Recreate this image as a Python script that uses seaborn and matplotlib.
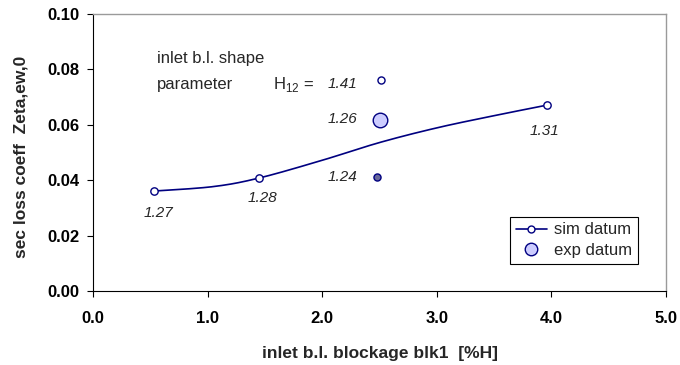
import numpy as np
import pandas as pd
import matplotlib
matplotlib.use("Agg")
import matplotlib.pyplot as plt
import seaborn as sns
from matplotlib.lines import Line2D

# simulated points: inlet blockage [%H] vs secondary loss coefficient
sim_blockage = [0.535, 1.45, 3.96]
sim_zeta = [0.0361, 0.0408, 0.0671]
sim_h12 = ["1.27", "1.28", "1.31"]

# simulation trend line (smoothed) through the simulated cases
trend_blockage = [0.535, 1.05, 1.45, 2.0, 2.5, 3.0, 3.5, 3.96]
trend_zeta = [0.0361, 0.0377, 0.0408, 0.0472, 0.0536, 0.0589, 0.0633, 0.0671]

# experimental points at blockage ~2.5 %H
exp_blockage = [2.51, 2.50, 2.48]
exp_zeta = [0.0762, 0.0617, 0.0413]
exp_h12 = ["1.41", "1.26", "1.24"]

x_ticks = [0.0, 1.0, 2.0, 3.0, 4.0, 5.0]
y_ticks = [0.00, 0.02, 0.04, 0.06, 0.08, 0.10]

sns.set_style("ticks")
plt.rcParams["font.family"] = ["Liberation Sans", "DejaVu Sans"]
plt.rcParams["mathtext.fontset"] = "custom"
plt.rcParams["mathtext.rm"] = "Liberation Sans"

NAVY = "#000080"


def smooth_curve(xs, ys, n=30):
    """Piecewise cubic Bezier through the points (Catmull-Rom tangents)."""
    p = np.column_stack([xs, ys]).astype(float)
    ext = np.vstack([p[0], p, p[-1]])
    out = []
    t = np.linspace(0, 1, n)[:, None]
    for i in range(len(p) - 1):
        p0, p1 = ext[i + 1], ext[i + 2]
        c1 = p0 + (ext[i + 2] - ext[i]) / 6.0
        c2 = p1 - (ext[i + 3] - ext[i + 1]) / 6.0
        seg = ((1 - t) ** 3) * p0 + 3 * ((1 - t) ** 2) * t * c1 \
            + 3 * (1 - t) * t ** 2 * c2 + t ** 3 * p1
        out.append(seg if i == 0 else seg[1:])
    return np.vstack(out)


fig = plt.figure(figsize=(6.8, 3.65), dpi=100)
ax = fig.add_axes([0.1368, 0.2027, 0.8426, 0.7589])

curve = smooth_curve(trend_blockage, trend_zeta)
curve_df = pd.DataFrame({"blk": curve[:, 0], "zeta": curve[:, 1]})
sns.lineplot(data=curve_df, x="blk", y="zeta", sort=False, color=NAVY,
             linewidth=1.2, ax=ax, legend=False)

sim_df = pd.DataFrame({"blk": sim_blockage, "zeta": sim_zeta})
sns.scatterplot(data=sim_df, x="blk", y="zeta", ax=ax, s=28, marker="o",
                facecolor="white", edgecolor=NAVY, linewidth=1.0,
                zorder=4, legend=False)

exp_faces = ["white", "#ccccff", "#69699a"]
exp_sizes = [26, 110, 26]
for bx, zy, fc, sz in zip(exp_blockage, exp_zeta, exp_faces, exp_sizes):
    sns.scatterplot(x=[bx], y=[zy], ax=ax, s=sz, marker="o", facecolor=fc,
                    edgecolor=NAVY, linewidth=1.0, zorder=4, legend=False)

# H12 labels
sim_lab_pos = [(0.567, 0.0282), (1.475, 0.0336), (3.94, 0.0578)]
for (tx, ty), lab in zip(sim_lab_pos, sim_h12):
    ax.text(tx, ty, lab, ha="center", va="center", fontsize=11,
            style="italic")
exp_lab_y = [0.0747, 0.0621, 0.0412]
for ty, lab in zip(exp_lab_y, exp_h12):
    ax.text(2.31, ty, lab, ha="right", va="center", fontsize=11,
            style="italic")

ax.text(0.56, 0.0838, "inlet b.l. shape", ha="left", va="center",
        fontsize=12)
ax.text(0.56, 0.0747, "parameter", ha="left", va="center", fontsize=12)
ax.text(1.57, 0.0747, r"H$_{12}$ =", ha="left", va="center", fontsize=12)

ax.set_xlim(0, 5)
ax.set_ylim(0, 0.10)
ax.set_xticks(x_ticks)
ax.set_yticks(y_ticks)
ax.set_xticklabels([f"{v:.1f}" for v in x_ticks], fontweight="bold",
                   fontsize=12)
ax.set_yticklabels([f"{v:.2f}" for v in y_ticks], fontweight="bold",
                   fontsize=12)
ax.tick_params(axis="x", direction="out", length=4.5, width=0.8, pad=10,
               colors="black")
ax.tick_params(axis="y", direction="out", length=4.5, width=0.8, pad=5,
               colors="black")

ax.set_xlabel("inlet b.l. blockage blk1  [%H]", fontweight="bold",
              fontsize=12.5)
ax.xaxis.set_label_coords(0.5, -0.224)
ax.xaxis.label.set_va("center")
ax.set_ylabel("sec loss coeff  Zeta,ew,0", fontweight="bold", fontsize=12.5)
ax.yaxis.set_label_coords(-0.125, 0.484)
ax.yaxis.label.set_va("center")

for side in ("left", "bottom"):
    ax.spines[side].set_color("black")
    ax.spines[side].set_linewidth(0.8)
for side in ("top", "right"):
    ax.spines[side].set_visible(True)
    ax.spines[side].set_color("#9a9a9a")
    ax.spines[side].set_linewidth(1.0)

handles = [
    Line2D([0], [0], color=NAVY, linewidth=1.2, marker="o", markersize=5,
           markerfacecolor="white", markeredgecolor=NAVY),
    Line2D([0], [0], linestyle="none", marker="o", markersize=9,
           markerfacecolor="#ccccff", markeredgecolor=NAVY),
]
leg = ax.legend(handles, ["sim datum", "exp datum"], loc="lower right",
                bbox_to_anchor=(0.951, 0.097), fontsize=12, frameon=True,
                fancybox=False, framealpha=1, edgecolor="black",
                handlelength=1.9, borderpad=0.35, labelspacing=0.35,
                handletextpad=0.4, borderaxespad=0)
leg.get_frame().set_linewidth(0.8)

fig.savefig("out.png", dpi=100)
